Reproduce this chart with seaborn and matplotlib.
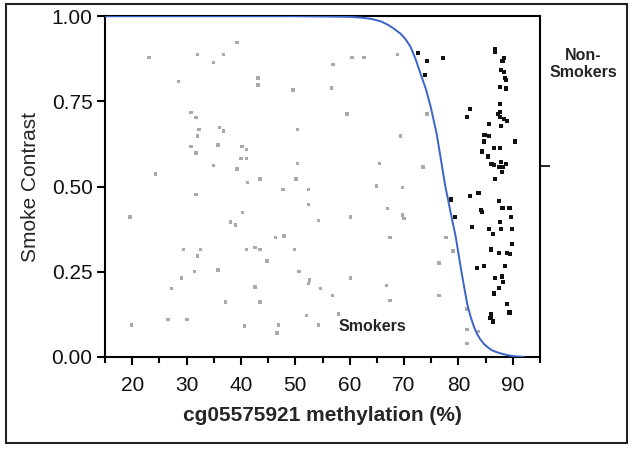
import numpy as np
import pandas as pd
import matplotlib
matplotlib.use("Agg")
import matplotlib.pyplot as plt
from matplotlib.patches import Rectangle
import seaborn as sns

# Smokers (grey points)
smoker_x = [23.1, 19.9, 19.6, 24.3, 28.5, 26.6, 27.2, 29.4, 29.1, 30.1, 30.8, 31.7,
            30.8, 31.7, 32.0, 32.3, 32.0, 31.7, 32.6, 32.0, 31.4, 34.9, 34.9, 36.8,
            36.1, 36.8, 35.8, 35.8, 37.1, 39.3, 39.3, 40.2, 41.0, 40.0, 41.0, 41.2,
            40.3, 38.1, 39.0, 41.0, 42.6, 43.5, 43.1, 43.1, 43.5, 44.8, 42.6, 43.5,
            40.6, 46.3, 47.9, 47.7, 46.9, 46.6, 49.6, 50.4, 50.4, 50.1, 49.8, 50.7,
            52.4, 52.4, 52.6, 52.4, 52.1, 54.3, 54.6, 54.3, 56.6, 56.9, 56.8, 57.9,
            59.5, 60.4, 62.6, 60.2, 60.2, 65.5, 64.9, 67.0, 67.4, 66.8, 67.4, 68.8,
            69.4, 69.7, 69.7, 70.0, 73.5, 74.2, 77.7, 76.4, 76.4, 79.0, 81.6, 81.6,
            81.6, 83.7]
smoker_y = [0.878, 0.094, 0.411, 0.537, 0.808, 0.109, 0.201, 0.315, 0.231, 0.109, 0.718, 0.703,
            0.617, 0.598, 0.888, 0.668, 0.648, 0.476, 0.315, 0.296, 0.250, 0.864, 0.562, 0.888,
            0.673, 0.663, 0.622, 0.255, 0.161, 0.922, 0.552, 0.617, 0.608, 0.582, 0.582, 0.512,
            0.423, 0.396, 0.387, 0.315, 0.321, 0.315, 0.818, 0.798, 0.522, 0.281, 0.205, 0.161,
            0.090, 0.351, 0.355, 0.492, 0.094, 0.070, 0.783, 0.668, 0.567, 0.522, 0.315, 0.250,
            0.492, 0.447, 0.226, 0.216, 0.121, 0.401, 0.201, 0.094, 0.789, 0.859, 0.180, 0.126,
            0.713, 0.878, 0.878, 0.411, 0.231, 0.567, 0.501, 0.436, 0.351, 0.210, 0.166, 0.888,
            0.648, 0.497, 0.416, 0.406, 0.557, 0.713, 0.351, 0.276, 0.180, 0.311, 0.140, 0.080,
            0.040, 0.075]

# Non-smokers (black points)
nonsmoker_x = [72.6, 74.2, 73.8, 77.1, 78.6, 79.3, 81.6, 82.1, 82.1, 82.5, 83.7, 84.1,
               84.3, 83.4, 84.7, 84.4, 84.7, 84.8, 85.7, 85.7, 85.5, 86.1, 86.7, 86.5,
               86.5, 85.7, 86.3, 86.0, 86.0, 85.9, 86.3, 86.5, 86.8, 86.8, 86.8, 87.4,
               87.3, 87.6, 87.7, 87.7, 87.9, 87.7, 87.9, 87.6, 87.5, 87.7, 87.9, 87.5,
               87.5, 88.0, 87.9, 88.1, 88.4, 88.4, 88.6, 88.8, 88.8, 88.4, 89.0, 88.2,
               88.8, 88.1, 88.2, 88.6, 88.9, 89.0, 89.4, 89.4, 89.6, 89.8, 89.8, 89.5,
               90.4, 88.0]
nonsmoker_y = [0.893, 0.869, 0.828, 0.878, 0.462, 0.411, 0.703, 0.728, 0.471, 0.382, 0.481, 0.431,
               0.426, 0.261, 0.266, 0.603, 0.632, 0.652, 0.648, 0.683, 0.588, 0.567, 0.522, 0.562,
               0.613, 0.376, 0.361, 0.315, 0.126, 0.114, 0.104, 0.186, 0.231, 0.903, 0.895, 0.557,
               0.713, 0.719, 0.742, 0.613, 0.572, 0.703, 0.678, 0.793, 0.457, 0.396, 0.376, 0.306,
               0.201, 0.236, 0.843, 0.869, 0.878, 0.837, 0.818, 0.813, 0.788, 0.698, 0.693, 0.557,
               0.567, 0.436, 0.220, 0.266, 0.305, 0.156, 0.130, 0.436, 0.411, 0.376, 0.331, 0.301,
               0.632, 0.542]

# fitted curve
curve_x = [15, 50, 56, 60, 62, 64, 65.7, 67, 68, 69.4, 70.3, 71.2, 72.1, 73.0, 74.0, 74.9,
           76.0, 76.7, 77.6, 78.6, 79.5, 80.4, 81.0, 81.6, 82.2, 82.8, 83.4, 84.0, 84.7,
           85.4, 86.2, 87.0, 87.8, 89.0, 90.2, 91.2, 92.0]
curve_y = [1.0, 1.0, 0.999, 0.998, 0.996, 0.992, 0.985, 0.975, 0.965, 0.948, 0.932, 0.91,
           0.875, 0.833, 0.787, 0.734, 0.655, 0.587, 0.50, 0.421, 0.353, 0.265, 0.21, 0.157,
           0.12, 0.091, 0.068, 0.052, 0.038, 0.028, 0.019, 0.014, 0.010, 0.005, 0.002,
           0.0005, 0.0]

x_ticks = [20, 30, 40, 50, 60, 70, 80, 90]
y_ticks = [0.00, 0.25, 0.50, 0.75, 1.00]
mean_marker = 0.559

sns.set_theme(style="ticks")
plt.rcParams['font.family'] = ['Liberation Sans', 'DejaVu Sans']

smokers = pd.DataFrame({'x': smoker_x, 'y': smoker_y})
nonsmokers = pd.DataFrame({'x': nonsmoker_x, 'y': nonsmoker_y})
curve = pd.DataFrame({'x': curve_x, 'y': curve_y})

fig = plt.figure(figsize=(6.33, 4.5), dpi=100)
ax = fig.add_axes([0.166, 0.207, 0.687, 0.757])

sns.scatterplot(data=smokers, x='x', y='y', marker='s', s=6, color='#a9a9a9',
                edgecolor='none', ax=ax, zorder=2)
sns.scatterplot(data=nonsmokers, x='x', y='y', marker='s', s=9, color='#111111',
                edgecolor='none', ax=ax, zorder=3)
sns.lineplot(data=curve, x='x', y='y', color='#3a64c8', linewidth=1.4, ax=ax, zorder=4)

ax.set_xlim(15, 95)
ax.set_ylim(0, 1)
ax.set_xticks(x_ticks)
ax.set_xticks(np.arange(15, 96, 10), minor=True)
ax.set_yticks(y_ticks)
ax.set_yticklabels([f"{v:.2f}" for v in y_ticks])
ax.tick_params(axis='both', which='major', labelsize=15, length=6, width=1.5,
               color='black', labelcolor='#111111', pad=3)
ax.tick_params(axis='x', which='minor', length=4, width=1.5, color='black')
ax.tick_params(axis='x', which='major', pad=8)

for side in ['left', 'right', 'top', 'bottom']:
    ax.spines[side].set_visible(True)
    ax.spines[side].set_linewidth(1.5)
    ax.spines[side].set_color('black')

ax.set_xlabel('cg05575921 methylation (%)', fontsize=15, fontweight='bold', labelpad=8)
ax.set_ylabel('Smoke Contrast', fontsize=15, labelpad=8)

# right side marker tick
ax2 = ax.twinx()
ax2.set_ylim(0, 1)
ax2.set_yticks([mean_marker])
ax2.set_yticklabels([''])
ax2.tick_params(axis='y', length=7, width=1.2, color='black')
for side in ['left', 'right', 'top', 'bottom']:
    ax2.spines[side].set_visible(False)

ax.text(64.2, 0.09, 'Smokers', fontsize=11.5, fontweight='bold', ha='center', va='center')
fig.text(0.921, 0.858, 'Non-\nSmokers', fontsize=11.5, fontweight='bold',
         ha='center', va='center', linespacing=1.15)

fig.patches.append(Rectangle((0.0095, 0.0156), 0.981, 0.976, transform=fig.transFigure,
                             fill=False, edgecolor='#222222', linewidth=1.5))

fig.savefig('out.png', dpi=100)
